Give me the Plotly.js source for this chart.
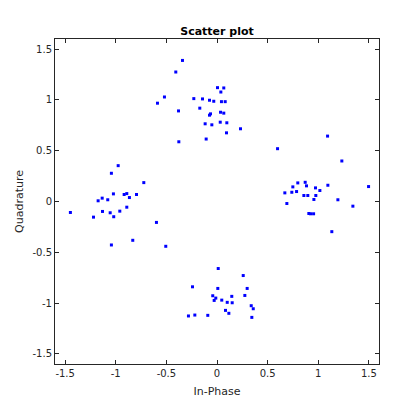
<!DOCTYPE html>
<html>
<head>
<meta charset="utf-8">
<script src="https://cdn.plot.ly/plotly-3.0.1.min.js"></script>
<style>html,body{margin:0;padding:0;background:#fff;}#chart{width:420px;height:420px;}</style>
</head>
<body>
<div id="chart"></div>
<script>
// In-phase (x) and quadrature (y) values
const inPhase = [
  // top cluster
  -0.341, -0.407, 0.005, 0.067, 0.038, -0.519, -0.588, -0.229, -0.143, -0.074,
  -0.032, 0.044, 0.081, -0.380, -0.170, -0.064, -0.074, 0.035, 0.067, -0.117,
  -0.051, 0.032, 0.097, 0.232, 0.094, -0.377, -0.107,
  // left cluster
  -0.976, -1.043, -0.723, -1.023, -1.134, -1.174, -1.079, -0.917, -0.891, -0.865,
  -0.795, -1.448, -1.131, -1.055, -0.960, -0.891, -1.220, -1.020, -0.598, -0.832,
  -1.043, -0.506,
  // bottom cluster
  0.012, 0.259, -0.242, 0.008, 0.298, -0.042, -0.012, -0.028, 0.047, 0.146,
  0.275, 0.101, 0.150, 0.338, 0.358, 0.084, 0.117, -0.282, -0.219, -0.091,
  0.344,
  // right cluster
  0.598, 1.233, 1.497, 0.670, 0.739, 0.749, 0.798, 0.786, 0.871, 0.884,
  0.858, 0.897, 0.973, 0.976, 1.016, 1.095, 0.957, 0.690, 1.194, 1.342,
  0.907, 0.924, 0.954, 1.134, 1.092
];
const quadrature = [
  // top cluster
  1.389, 1.275, 1.121, 1.118, 1.078, 1.029, 0.968, 1.013, 1.010, 0.997,
  0.987, 0.983, 0.983, 0.892, 0.919, 0.863, 0.850, 0.879, 0.870, 0.765,
  0.755, 0.781, 0.775, 0.716, 0.676, 0.588, 0.615,
  // left cluster
  0.353, 0.278, 0.186, 0.075, 0.033, 0.007, 0.017, 0.069, 0.078, 0.039,
  0.069, -0.108, -0.098, -0.111, -0.095, -0.056, -0.154, -0.150, -0.206, -0.382,
  -0.428, -0.441,
  // bottom cluster
  -0.660, -0.729, -0.840, -0.856, -0.856, -0.928, -0.951, -0.974, -0.971, -0.934,
  -0.925, -0.993, -0.997, -1.026, -1.056, -1.072, -1.101, -1.127, -1.118, -1.121,
  -1.141,
  // right cluster
  0.520, 0.399, 0.147, 0.085, 0.091, 0.144, 0.183, 0.098, 0.189, 0.154,
  0.059, 0.059, 0.134, 0.059, 0.108, 0.160, 0.020, -0.020, 0.017, -0.046,
  -0.118, -0.121, -0.121, -0.297, 0.644
];
const tickVals = [-1.5, -1, -0.5, 0, 0.5, 1, 1.5];
const tickText = ['-1.5', '-1', '-0.5', '0', '0.5', '1', '1.5'];

const axisCommon = {
  range: [-1.6, 1.6],
  tickmode: 'array',
  tickvals: tickVals,
  ticktext: tickText,
  ticks: 'inside',
  ticklen: 4,
  tickwidth: 1,
  tickcolor: '#262626',
  showline: true,
  linecolor: '#262626',
  linewidth: 1,
  mirror: 'ticks',
  showgrid: false,
  zeroline: false,
  tickfont: {family: 'DejaVu Sans', size: 10, color: '#262626'},
  automargin: false
};

const trace = {
  x: inPhase,
  y: quadrature,
  type: 'scatter',
  mode: 'markers',
  marker: {symbol: 'square', size: 3, color: '#0000ff'},
  hoverinfo: 'skip'
};

const layout = {
  width: 420,
  height: 420,
  margin: {l: 55, r: 41, t: 39, b: 56},
  paper_bgcolor: '#ffffff',
  plot_bgcolor: '#ffffff',
  showlegend: false,
  title: {
    text: 'Scatter plot',
    font: {family: 'DejaVu Sans', size: 11, color: '#000000', weight: 'bold'},
    x: 0.5, xanchor: 'center', xref: 'paper',
    y: 1 - 31 / 420, yanchor: 'middle', yref: 'container'
  },
  xaxis: Object.assign({}, axisCommon, {
    title: {text: 'In-Phase', font: {family: 'DejaVu Sans', size: 11, color: '#262626'}, standoff: 9}
  }),
  yaxis: Object.assign({}, axisCommon, {
    title: {text: 'Quadrature', font: {family: 'DejaVu Sans', size: 11, color: '#262626'}, standoff: 6}
  })
};

Plotly.newPlot('chart', [trace], layout, {displayModeBar: false, staticPlot: true});
</script>
</body>
</html>
